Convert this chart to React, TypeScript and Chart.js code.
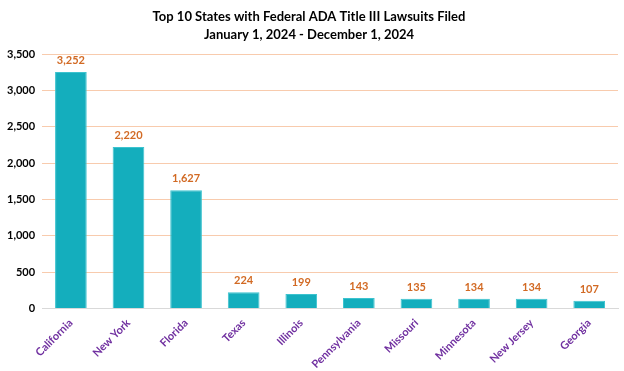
import React, { useEffect, useRef } from "react";
import { Chart, registerables } from "chart.js";

Chart.register(...registerables);

const categories = ["California", "New York", "Florida", "Texas", "Illinois", "Pennsylvania", "Missouri", "Minnesota", "New Jersey", "Georgia"];
const lawsuits = [3252, 2220, 1627, 224, 199, 143, 135, 134, 134, 107];
const titleLines = ["Top 10 States with Federal ADA Title III Lawsuits Filed", "January 1, 2024 - December 1, 2024"];

const FONT = "Lato, 'Open Sans', sans-serif";

const dataLabelPlugin = {
  id: "dataLabels",
  afterDatasetsDraw(chart: any) {
    const ctx = chart.ctx;
    const meta = chart.getDatasetMeta(0);
    ctx.save();
    ctx.fillStyle = "#D26A24";
    ctx.font = `bold 11px ${FONT}`;
    ctx.textAlign = "center";
    ctx.textBaseline = "bottom";
    meta.data.forEach((bar: any, i: number) => {
      ctx.fillText(lawsuits[i].toLocaleString("en-US"), bar.x, bar.y - 6);
    });
    ctx.restore();
  },
};

export default function App() {
  const ref = useRef<HTMLCanvasElement>(null);
  useEffect(() => {
    document.body.style.margin = "0";
    const chart = new Chart(ref.current!, {
      type: "bar",
      data: {
        labels: categories,
        datasets: [
          {
            data: lawsuits,
            backgroundColor: "#14AEBD",
            borderColor: "#3CC3CF",
            borderWidth: 1,
            categoryPercentage: 1,
            barPercentage: 0.55,
          },
        ],
      },
      options: {
        animation: false,
        responsive: false,
        maintainAspectRatio: false,
        layout: { padding: { left: 0, right: 6, top: 0, bottom: 0 } },
        plugins: {
          legend: { display: false },
          tooltip: { enabled: false },
          title: {
            display: true,
            text: titleLines,
            color: "#000",
            font: { family: FONT, size: 13, weight: "bold", lineHeight: 1.35 },
            padding: { top: 8, bottom: 11 },
          },
        },
        scales: {
          x: {
            grid: { display: false },
            border: { color: "#D9D9D9" },
            ticks: {
              color: "#7030A0",
              font: { family: FONT, size: 11, weight: "bold" },
              maxRotation: 45,
              minRotation: 45,
              padding: 0,
            },
          },
          y: {
            min: 0,
            max: 3500,
            ticks: {
              stepSize: 500,
              color: "#000",
              font: { family: FONT, size: 11, weight: "bold" },
              padding: 7,
              callback: (v: any) => Number(v).toLocaleString("en-US"),
            },
            grid: { color: "#F8CBAD", drawTicks: false },
            border: { display: false },
          },
        },
      },
      plugins: [dataLabelPlugin],
    });
    return () => chart.destroy();
  }, []);
  return (
    <div style={{ width: 624, height: 371 }}>
      <canvas ref={ref} width={624} height={371} style={{ width: 624, height: 371 }} />
    </div>
  );
}
